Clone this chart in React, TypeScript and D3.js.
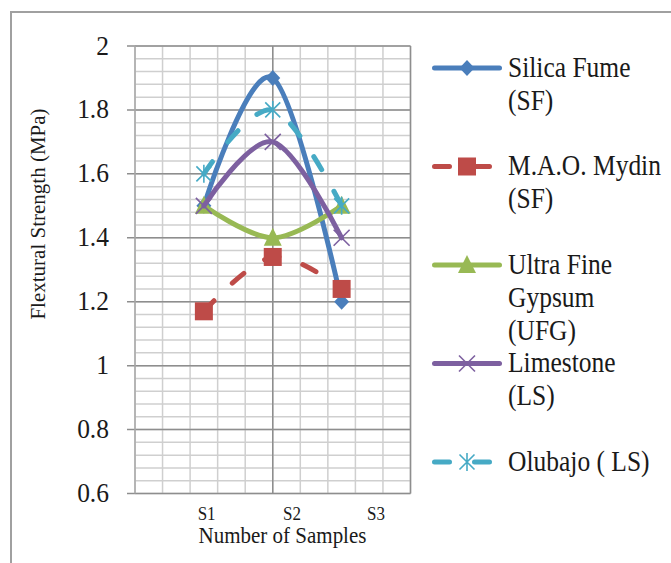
import React from "react";
import * as d3 from "d3";

// ---------- data ----------
const categories = ["S1", "S2", "S3"];
const xValues = [1, 2, 3];
const xTickLabelPos = [1.04, 2.28, 3.5];
const silicaFume = [1.5, 1.9, 1.2];
const mydin = [1.17, 1.34, 1.24];
const ufg = [1.5, 1.4, 1.5];
const limestone = [1.5, 1.7, 1.4];
const olubajo = [1.6, 1.8, 1.5];
const yTicks = [0.6, 0.8, 1, 1.2, 1.4, 1.6, 1.8, 2];
const legendLabels = [
  ["Silica Fume", "(SF)"],
  ["M.A.O. Mydin", "(SF)"],
  ["Ultra Fine", "Gypsum", "(UFG)"],
  ["Limestone", "(LS)"],
  ["Olubajo ( LS)"],
];
const yTitle = "Flextural Strength (MPa)";
const xTitle = "Number of Samples";

type Marker = "diamond" | "square" | "triangle" | "x" | "star";
const seriesDefs: { values: number[]; color: string; dashed: boolean; marker: Marker }[] = [
  { values: silicaFume, color: "#4A7EBB", dashed: false, marker: "diamond" },
  { values: mydin, color: "#BE4B48", dashed: true, marker: "square" },
  { values: ufg, color: "#98B954", dashed: false, marker: "triangle" },
  { values: limestone, color: "#7D60A0", dashed: false, marker: "x" },
  { values: olubajo, color: "#46AAC5", dashed: true, marker: "star" },
];

const W = 671;
const H = 563;
const FONT = "'Liberation Serif', 'Times New Roman', serif";
const TXT = "#1a1a1a";

const x = d3.scaleLinear().domain([0, 4]).range([135, 410.5]);
const y = d3.scaleLinear().domain([0.6, 2]).range([493.5, 46]);

const line = d3
  .line<[number, number]>()
  .x((d) => x(d[0]))
  .y((d) => y(d[1]))
  .curve(d3.curveCardinal.tension(0));

function MarkerShape({ type, color, cx, cy }: { type: Marker; color: string; cx: number; cy: number }) {
  const t = `translate(${cx},${cy})`;
  if (type === "diamond") return <path transform={t} d="M0,-8 L7.5,0 L0,8 L-7.5,0Z" fill={color} />;
  if (type === "square") return <rect transform={t} x={-9} y={-9} width={18} height={18} fill={color} />;
  if (type === "triangle") return <path transform={t} d="M0,-10 L9,8 L-9,8Z" fill={color} />;
  if (type === "x")
    return (
      <path transform={t} d="M-8,-8 L8,8 M-8,8 L8,-8" stroke={color} strokeWidth={1.6} fill="none" />
    );
  return (
    <path
      transform={t}
      d="M-7.5,-7.5 L7.5,7.5 M-7.5,7.5 L7.5,-7.5 M0,-9 L0,9"
      stroke={color}
      strokeWidth={1.6}
      fill="none"
    />
  );
}

function SText({
  x: tx,
  y: ty,
  size,
  k = 1,
  anchor = "start",
  children,
}: {
  x: number;
  y: number;
  size: number;
  k?: number;
  anchor?: string;
  children: React.ReactNode;
}) {
  return (
    <text
      transform={`translate(${tx},${ty}) scale(1,${k})`}
      fontSize={size}
      fontFamily={FONT}
      fill={TXT}
      textAnchor={anchor}
    >
      {children}
    </text>
  );
}

export default function App() {
  const minorY = d3.range(0, 36).map((i) => 0.6 + i * 0.04);
  const minorX = d3.range(0, 11).map((i) => i * 0.4);
  const majorX = [0, 2, 4];

  return (
    <svg
      width={W}
      height={H}
      viewBox={`0 0 ${W} ${H}`}
      style={{ position: "absolute", left: 0, top: 0, background: "#fff" }}
    >
      <rect x={0} y={0} width={W} height={H} fill="#fff" />
      {/* outer chart border */}
      <rect x={11} y={12} width={W + 20} height={H + 20} fill="none" stroke="#a0a0a0" strokeWidth={2} />

      {/* minor gridlines */}
      {minorY.map((v, i) => (
        <line key={"my" + i} x1={x(0)} x2={x(4)} y1={y(v)} y2={y(v)} stroke="#cfcfcf" strokeWidth={1.5} />
      ))}
      {minorX.map((v, i) => (
        <line key={"mx" + i} x1={x(v)} x2={x(v)} y1={y(0.6)} y2={y(2)} stroke="#cfcfcf" strokeWidth={1.5} />
      ))}
      {/* major gridlines */}
      {yTicks.map((v, i) => (
        <line key={"My" + i} x1={x(0) - 8} x2={x(4)} y1={y(v)} y2={y(v)} stroke="#8e8e8e" strokeWidth={1.5} />
      ))}
      {majorX.map((v, i) => (
        <line
          key={"Mx" + i}
          x1={x(v)}
          x2={x(v)}
          y1={y(0.6)}
          y2={y(2)}
          stroke={v === 0 ? "#a8a8a8" : "#8e8e8e"}
          strokeWidth={1.5}
        />
      ))}

      {/* y tick labels */}
      {yTicks.map((v, i) => (
        <SText key={"yl" + i} x={109} y={y(v) + 8.5} size={25.5} k={1.06} anchor="end">
          {String(+v.toFixed(1))}
        </SText>
      ))}

      {/* x tick labels */}
      {categories.map((c, i) => (
        <SText key={"xl" + i} x={x(xTickLabelPos[i])} y={520} size={17} k={1.08} anchor="middle">
          {c}
        </SText>
      ))}

      {/* axis titles */}
      <SText x={282.5} y={543} size={21} k={1.08} anchor="middle">
        {xTitle}
      </SText>
      <text
        transform="translate(45,214) rotate(-90)"
        fontSize={21}
        fontFamily={FONT}
        fill={TXT}
        textAnchor="middle"
      >
        {yTitle}
      </text>

      {/* series */}
      {seriesDefs.map((s, si) => {
        const pts: [number, number][] = s.values.map((v, i) => [xValues[i], v]);
        return (
          <g key={"s" + si}>
            <path
              d={line(pts) || ""}
              fill="none"
              stroke={s.color}
              strokeWidth={5}
              strokeLinecap="round"
              strokeLinejoin="round"
              strokeDasharray={s.dashed ? "15 25" : undefined}
            />
            {pts.map((p, i) => (
              <MarkerShape key={i} type={s.marker} color={s.color} cx={x(p[0])} cy={y(p[1])} />
            ))}
          </g>
        );
      })}

      {/* legend */}
      {seriesDefs.map((s, si) => {
        const ly = 68 + si * 98.5;
        return (
          <g key={"lg" + si}>
            <line
              x1={434.5}
              x2={499.5}
              y1={ly}
              y2={ly}
              stroke={s.color}
              strokeWidth={5}
              strokeLinecap="round"
              strokeDasharray={s.dashed ? "15 25" : undefined}
            />
            <MarkerShape type={s.marker} color={s.color} cx={467} cy={ly} />
            {legendLabels[si].map((t, li) => (
              <SText key={li} x={508} y={76.5 + si * 98.5 + li * 33} size={25.5} k={1.12}>
                {t}
              </SText>
            ))}
          </g>
        );
      })}
    </svg>
  );
}
